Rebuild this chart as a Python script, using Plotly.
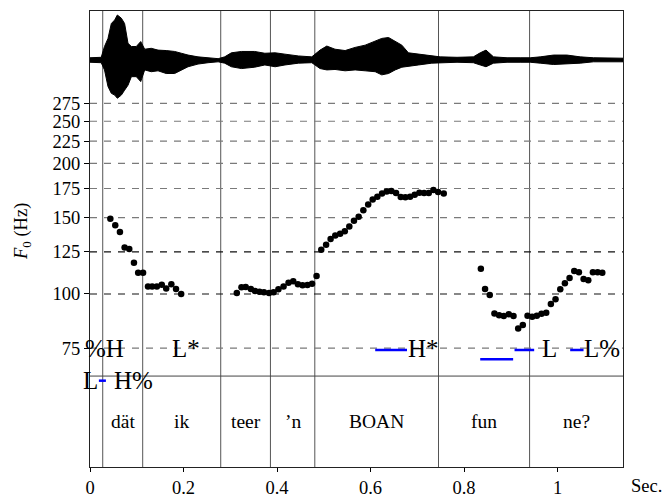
import plotly.graph_objects as go

# ---------------- data ----------------
# F0 track (seconds, Hz)
f0_t1 = [0.0435, 0.054, 0.064, 0.074, 0.084, 0.094, 0.103, 0.1135, 0.124, 0.133,
         0.143, 0.1535, 0.163, 0.174, 0.184, 0.195]
f0_v1 = [149, 144, 139, 128, 127, 118, 112, 112, 104, 104, 104, 105, 103, 105.3, 102.7, 100]

f0_t2 = [0.314, 0.324, 0.333, 0.344, 0.353, 0.3626, 0.372, 0.383, 0.3926, 0.403,
         0.414, 0.4246, 0.4347, 0.4447, 0.4546, 0.465, 0.475, 0.4846, 0.4946, 0.505,
         0.5146, 0.5246, 0.535, 0.545, 0.5546, 0.5646, 0.5746, 0.5846, 0.595, 0.6046,
         0.6146, 0.6246, 0.6346, 0.6446, 0.6546, 0.6646, 0.6745, 0.6846, 0.6945, 0.7045,
         0.7145, 0.7245, 0.7345, 0.7445, 0.7566]
f0_v2 = [100.5, 103.6, 103.8, 102.7, 101.6, 101.2, 100.9, 100.5, 100.9, 102.5,
         104, 106.2, 107, 105.3, 104.7, 104.9, 105.6, 110, 126.4, 129.8,
         133.8, 136.4, 137.6, 139.5, 143, 147.5, 150.6, 156, 160.8, 165,
         167.5, 170.5, 172.3, 172.7, 170.9, 167.3, 167, 167.5, 169.3, 171,
         170.8, 170.8, 173.6, 171.8, 170.5]

f0_t3 = [0.836, 0.845, 0.855, 0.865, 0.875, 0.885, 0.8957, 0.9058, 0.9158, 0.9257,
         0.9358, 0.9458, 0.9557, 0.9657, 0.9758, 0.9857, 0.9957, 1.0058, 1.0157, 1.0257,
         1.0357, 1.0457, 1.0557, 1.0657, 1.0756, 1.0857, 1.0957]
f0_v3 = [114.4, 102.7, 99.5, 90.2, 89.3, 89, 89.8, 89, 83.3, 84.8,
         89.1, 88.6, 89.1, 90, 90.5, 94.8, 97.2, 102.5, 105.8, 108.9,
         113, 112.2, 108.3, 107.6, 112.2, 112.2, 112.0]

# waveform amplitude envelope (seconds, normalised amplitude)
wave_t = [0.0, 0.024, 0.031, 0.0385, 0.0456, 0.0528, 0.0585, 0.067, 0.074, 0.0813,
          0.0885, 0.099, 0.1085, 0.117, 0.131, 0.1455, 0.163, 0.181, 0.1955, 0.2097,
          0.231, 0.2525, 0.274, 0.288, 0.3024, 0.324, 0.352, 0.374, 0.396, 0.417,
          0.446, 0.4744, 0.492, 0.5065, 0.524, 0.5457, 0.567, 0.5885, 0.61, 0.624,
          0.6385, 0.6527, 0.667, 0.681, 0.7026, 0.731, 0.749, 0.785, 0.820, 0.8346,
          0.847, 0.863, 0.892, 0.920, 0.9416, 0.963, 0.9915, 1.020, 1.0486, 1.077,
          1.1057, 1.14]
wave_top = [0.05, 0.06, 0.30, 0.48, 0.81, 0.89, 1.0, 0.93, 0.81, 0.37,
            0.30, 0.30, 0.41, 0.24, 0.26, 0.22, 0.21, 0.19, 0.15, 0.11,
            0.07, 0.05, 0.03, 0.07, 0.16, 0.19, 0.19, 0.15, 0.16, 0.13,
            0.09, 0.07, 0.22, 0.31, 0.24, 0.21, 0.28, 0.33, 0.43, 0.48,
            0.50, 0.41, 0.33, 0.16, 0.13, 0.09, 0.07, 0.06, 0.07, 0.16,
            0.22, 0.07, 0.05, 0.05, 0.05, 0.07, 0.11, 0.11, 0.07, 0.05,
            0.04, 0.04]
wave_bot = [-0.05, -0.06, -0.22, -0.59, -0.74, -0.78, -0.85, -0.78, -0.67, -0.56,
            -0.37, -0.37, -0.48, -0.22, -0.26, -0.24, -0.30, -0.30, -0.22, -0.15,
            -0.09, -0.06, -0.04, -0.07, -0.15, -0.19, -0.16, -0.11, -0.15, -0.11,
            -0.07, -0.06, -0.19, -0.22, -0.21, -0.24, -0.22, -0.24, -0.26, -0.33,
            -0.30, -0.22, -0.16, -0.15, -0.11, -0.07, -0.07, -0.05, -0.06, -0.11,
            -0.15, -0.07, -0.05, -0.05, -0.05, -0.07, -0.10, -0.09, -0.07, -0.04,
            -0.04, -0.04]

# word tier
word_bounds = [0.0272, 0.1127, 0.2796, 0.3859, 0.4808, 0.7454, 0.9402, 1.140]
words = ["dät", "ik", "teer", "’n", "BOAN", "fun", "ne?"]

# tone tier
tone_row1_t = [0.030, 0.2054, 0.7126, 0.982, 1.095]
tone_row1 = ["%H", "L*", "H*", "L", "L%"]
tone_row2_t = [0.0, 0.092]
tone_row2 = ["L", "H%"]
blue_start = [0.019, 0.610, 0.8346, 0.908, 1.027]
blue_end = [0.034, 0.678, 0.905, 0.950, 1.0556]
blue_row = [2, 1, 3, 1, 1]

yticks = [75, 100, 125, 150, 175, 200, 225, 250, 275]
xticks = [0, 0.2, 0.4, 0.6, 0.8, 1]
xticklabels = ["0", "0.2", "0.4", "0.6", "0.8", "1"]

# ---------------- figure ----------------
FONT = "Liberation Serif, Times New Roman, serif"
XMAX = 1.140
fig = go.Figure()

# gridlines (dashed)
for v in yticks:
    dark = v in (100, 125)
    fig.add_trace(go.Scatter(x=[0, XMAX], y=[v, v], mode="lines",
                             line=dict(color="#111" if dark else "#7a7a7a", width=1.2,
                                       dash="7px,7px"),
                             hoverinfo="skip", showlegend=False))

# waveform envelope
fig.add_trace(go.Scatter(x=wave_t + wave_t[::-1], y=wave_top + wave_bot[::-1],
                         fill="toself", fillcolor="black", mode="lines",
                         line=dict(color="black", width=1), yaxis="y2",
                         hoverinfo="skip", showlegend=False))

# F0 dots
for tt, vv in [(f0_t1, f0_v1), (f0_t2, f0_v2), (f0_t3, f0_v3)]:
    fig.add_trace(go.Scatter(x=tt, y=vv, mode="markers",
                             marker=dict(color="black", size=6.5),
                             showlegend=False))

shapes = []
# word boundaries
for b in word_bounds[:-1]:
    shapes.append(dict(type="line", xref="x", yref="paper", x0=b, x1=b, y0=0, y1=1,
                       line=dict(color="#555", width=1), layer="below"))
# tier separator
shapes.append(dict(type="line", xref="paper", yref="paper", x0=0, x1=1,
                   y0=0.1994, y1=0.1994, line=dict(color="#444", width=1)))
# blue lines
row_y = {1: 0.2566, 2: 0.1893, 3: 0.2362}
for s, e, r in zip(blue_start, blue_end, blue_row):
    shapes.append(dict(type="line", xref="x", yref="paper", x0=s, x1=e,
                       y0=row_y[r], y1=row_y[r], line=dict(color="#0000ff", width=2.5)))

annotations = []
def ann(x, y, text, size, xref="x", **kw):
    annotations.append(dict(x=x, y=y, xref=xref, yref="paper", text=text,
                            showarrow=False, xanchor="center", yanchor="middle",
                            font=dict(size=size, color="black", family=FONT), **kw))

for i, w in enumerate(words):
    ann((word_bounds[i] + word_bounds[i + 1]) / 2, 0.0987, w, 19.5)
for t, lab in zip(tone_row1_t, tone_row1):
    ann(t, 0.2599, lab, 25)
for t, lab in zip(tone_row2_t, tone_row2):
    ann(t, 0.1886, lab, 25)
ann(-0.1276, 0.5175, "<i>F</i><sub>0</sub> (Hz)", 18.5, xref="paper", textangle=-90)
ann(1.045, -0.0417, "Sec.", 18.5, xref="paper")

tickfont = dict(family=FONT, size=18.5, color="black")
fig.update_layout(
    width=663, height=495,
    margin=dict(l=90, r=40, t=11, b=28),
    plot_bgcolor="white", paper_bgcolor="white",
    font=dict(family=FONT, size=18.5, color="black"),
    xaxis=dict(range=[0, XMAX], tickvals=xticks, ticktext=xticklabels,
               ticks="outside", ticklen=4, tickcolor="black", showgrid=False,
               zeroline=False, showline=True, linecolor="#222", mirror=True,
               automargin=False, tickfont=tickfont),
    yaxis=dict(type="log", range=[1.60141, 2.65196], tickvals=yticks,
               ticktext=[str(v) for v in yticks], ticks="outside", ticklen=5,
               tickcolor="black", showgrid=False, zeroline=False, showline=True,
               linecolor="#222", mirror=True, automargin=False, tickfont=tickfont),
    yaxis2=dict(overlaying="y", range=[-9.044, 1.089], visible=False),
    shapes=shapes, annotations=annotations,
)

# remove the default page margin so the 663x495 figure sits at the window origin
fig.write_html("out.html",
               config={"displayModeBar": False},
               post_script="document.body.style.margin='0';"
                           "document.body.style.overflow='hidden';")
